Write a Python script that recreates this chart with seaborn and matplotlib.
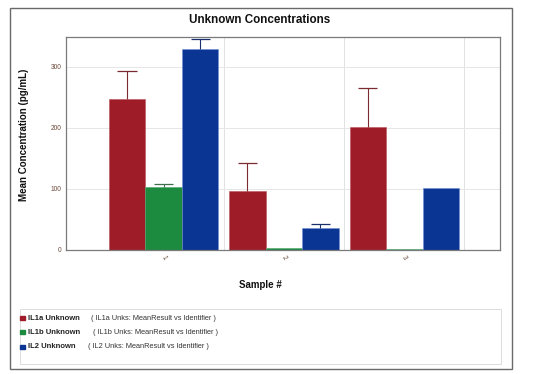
import numpy as np
import pandas as pd
import matplotlib
matplotlib.use('Agg')
import matplotlib.pyplot as plt
import seaborn as sns
from matplotlib.patches import Rectangle

samples = ['1', '2', '3']
series = ['IL1a Unknown', 'IL1b Unknown', 'IL2 Unknown']
descriptions = ['( IL1a Unks: MeanResult vs Identifier )',
                '( IL1b Unks: MeanResult vs Identifier )',
                '( IL2 Unks: MeanResult vs Identifier )']
il1a = [248, 96, 202]
il1a_err = [46, 47, 64]
il1b = [102.5, 3.8, 1.5]
il1b_err = [5, 0, 0]
il2 = [329, 35.5, 101]
il2_err = [16, 6.5, 0]

colors = ['#9e1c27', '#1c8a3f', '#0b3592']
edge_colors = ['#b8545c', '#4fa86c', '#6f8fd6']
err_colors = ['#7b2a30', '#3f6f4c', '#1a2f6e']

df = pd.DataFrame({
    'Sample': samples * 3,
    'Series': np.repeat(series, 3),
    'Value': il1a + il1b + il2,
})
errs = [il1a_err, il1b_err, il2_err]

sns.set_style('white')
plt.rcParams['font.family'] = ['Liberation Sans', 'DejaVu Sans']

fig = plt.figure(figsize=(5.34, 3.74), dpi=100)
ax = fig.add_axes([66 / 534, 1 - 250 / 374, 434 / 534, 213 / 374])

sns.barplot(data=df, x='Sample', y='Value', hue='Series', palette=colors,
            width=0.91, gap=0, ax=ax, legend=False, saturation=1, linewidth=0.4)

# upward-only error bars (stem + top cap), skipped where there is no error
cap_half = 0.079
bar_groups = list(ax.containers)
for i, cont in enumerate(bar_groups):
    for p, e in zip(cont.patches, errs[i]):
        p.set_edgecolor(edge_colors[i])
        if e <= 0:
            continue
        xc = p.get_x() + p.get_width() / 2
        top = p.get_height() + e
        ax.vlines(xc, p.get_height(), top, color=err_colors[i], linewidth=0.8)
        ax.hlines(top, xc - cap_half, xc + cap_half, color=err_colors[i], linewidth=0.9)

ax.set_ylim(0, 349)
ax.set_xlim(-0.81, 2.795)
ax.set_yticks([0, 100, 200, 300])
ax.tick_params(axis='both', labelsize=4.8, labelcolor='#6b4a3a', length=0, pad=3)
for lab in ax.get_xticklabels():
    lab.set_rotation(-60)
ax.set_xlabel('')
ax.set_ylabel('')

ax.set_axisbelow(True)
ax.yaxis.grid(True, color='#e6e6e6', linewidth=0.7)
for xv in [0.5, 1.5, 2.5]:
    ax.axvline(xv, color='#e2e2e2', linewidth=0.7, zorder=0)
for sp in ax.spines.values():
    sp.set_color('#7a7a7a')
    sp.set_linewidth(0.9)

# outer frame and legend box
fig.patches.append(Rectangle((9.5 / 534, 1 - 369 / 374), 502.5 / 534, 361 / 374,
                             transform=fig.transFigure, fill=False,
                             edgecolor='#6a6a6a', linewidth=1.0))
fig.patches.append(Rectangle((20 / 534, 1 - 364 / 374), 481 / 534, 55 / 374,
                             transform=fig.transFigure, fill=False,
                             edgecolor='#dcdcdc', linewidth=0.7))

fig.text(260 / 534, 1 - 20 / 374, 'Unknown Concentrations', ha='center', va='center',
         fontsize=8.4, fontweight='bold', color='#111111')
fig.text(260 / 534, 1 - 285 / 374, 'Sample #', ha='center', va='center',
         fontsize=7, fontweight='bold', color='#111111')
fig.text(24 / 534, 1 - 135 / 374, 'Mean Concentration (pg/mL)', ha='center', va='center',
         rotation=90, fontsize=7, fontweight='bold', color='#111111')

leg_y = [318, 332, 347]
desc_x = [91, 93, 88]
for i in range(3):
    fig.patches.append(Rectangle((20.5 / 534, 1 - (leg_y[i] + 2) / 374), 4.5 / 534, 4.5 / 374,
                                 transform=fig.transFigure, color=colors[i]))
    fig.text(28 / 534, 1 - leg_y[i] / 374, series[i], ha='left', va='center',
             fontsize=5.5, fontweight='bold', color='#222222')
    fig.text(desc_x[i] / 534, 1 - leg_y[i] / 374, descriptions[i], ha='left', va='center',
             fontsize=5.3, color='#333333')

fig.savefig('out.png', dpi=100)
